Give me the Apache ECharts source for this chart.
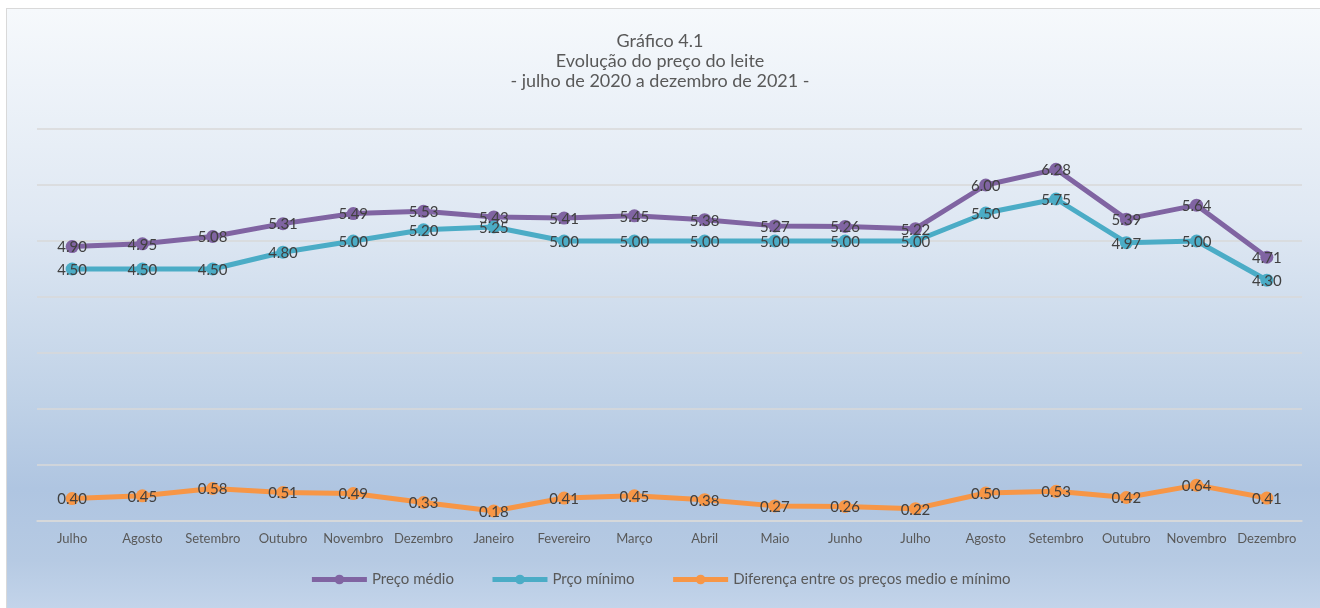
<!DOCTYPE html>
<html>
<head>
<meta charset="utf-8">
<script src="https://cdn.jsdelivr.net/npm/echarts@6/dist/echarts.min.js"></script>
<style>
html,body{margin:0;padding:0;width:1320px;height:608px;background:#fff;overflow:hidden;}
#bg{position:absolute;left:6px;top:8px;width:1318px;height:602px;border:1px solid #d9d9d9;box-sizing:border-box;
background:linear-gradient(to bottom,#f6f9fc 0%,#dfe8f3 35%,#c0d2e7 65%,#afc5e1 80%,#b6cae3 92%,#c3d4ea 100%);}
#chart{position:absolute;left:0;top:0;width:1320px;height:608px;}
</style>
</head>
<body>
<div id="bg"></div>
<div id="chart"></div>
<script>
const categories = ["Julho","Agosto","Setembro","Outubro","Novembro","Dezembro","Janeiro","Fevereiro","Março","Abril","Maio","Junho","Julho","Agosto","Setembro","Outubro","Novembro","Dezembro"];
const precoMedio = [4.90,4.95,5.08,5.31,5.49,5.53,5.43,5.41,5.45,5.38,5.27,5.26,5.22,6.00,6.28,5.39,5.64,4.71];
const precoMinimo = [4.50,4.50,4.50,4.80,5.00,5.20,5.25,5.00,5.00,5.00,5.00,5.00,5.00,5.50,5.75,4.97,5.00,4.30];
const diferenca = [0.40,0.45,0.58,0.51,0.49,0.33,0.18,0.41,0.45,0.38,0.27,0.26,0.22,0.50,0.53,0.42,0.64,0.41];
const seriesNames = ["Preço médio","Prço mínimo","Diferença entre os preços medio e mínimo"];
const titleLines = ["Gráfico 4.1","Evolução do preço do leite","- julho de 2020 a dezembro de 2021 -"];

const FONT = "Lato";
const chart = echarts.init(document.getElementById('chart'), null, {renderer:'canvas'});
function mkSeries(name, data, color){
  return {
    name: name, type:'line', data: data,
    symbol:'circle', symbolSize:13,
    lineStyle:{width:5,color:color},
    itemStyle:{color:color},
    label:{show:true, position:'inside', offset:[0,1], formatter:p=>p.value.toFixed(2),
      color:'#404040', fontFamily:FONT, fontSize:15},
    emphasis:{disabled:true},
    animation:false
  };
}
chart.setOption({
  backgroundColor:'transparent',
  animation:false,
  title:{
    text: titleLines.join('\n'),
    left:'center', top:26,
    textStyle:{fontFamily:FONT, fontSize:18, fontWeight:'normal', color:'#595959', lineHeight:20}
  },
  legend:{
    bottom:16, left:'center',
    itemWidth:55, itemHeight:12, itemGap:36,
    lineStyle:{width:5},
    textStyle:{fontFamily:FONT, fontSize:15, color:'#595959'},
    data: seriesNames
  },
  grid:{left:37, right:18, top:129, bottom:87},
  xAxis:{
    type:'category', data:categories, boundaryGap:true,
    axisLine:{show:true, lineStyle:{color:'#d9d9d9', width:1.5}},
    axisTick:{show:false},
    axisLabel:{color:'#595959', fontFamily:FONT, fontSize:13, margin:11, interval:0}
  },
  yAxis:{
    type:'value', min:0, max:7, interval:1,
    axisLabel:{show:false}, axisLine:{show:false}, axisTick:{show:false},
    splitLine:{lineStyle:{color:'#d9d9d9', width:1.5}}
  },
  series:[
    mkSeries(seriesNames[0], precoMedio, '#8064a2'),
    mkSeries(seriesNames[1], precoMinimo, '#4bacc6'),
    mkSeries(seriesNames[2], diferenca, '#f79646')
  ]
});
</script>
</body>
</html>
